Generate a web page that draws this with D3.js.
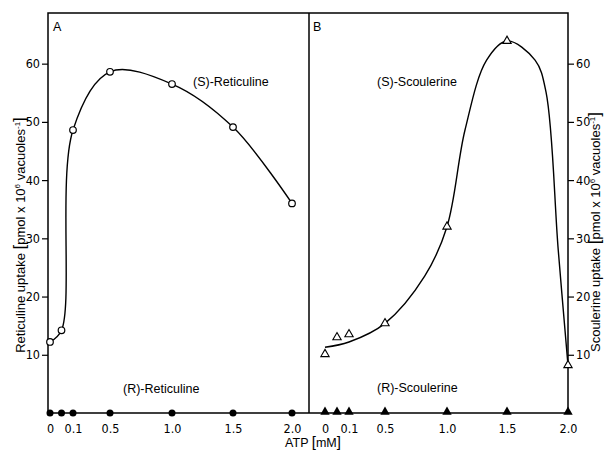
<!DOCTYPE html>
<html>
<head>
<meta charset="utf-8">
<script src="https://cdn.jsdelivr.net/npm/d3@7"></script>
<style>
    body { margin: 0; background: #fff; }
    svg { font-family: "Liberation Sans", Arial, sans-serif; }
    .tick text { font-family: "Liberation Sans Narrow", "DejaVu Sans Condensed", "Liberation Sans", sans-serif; font-size: 12.5px; }
</style>
</head>
<body>
<svg id="chart" width="605" height="452"></svg>
<script>
// ATP concentrations (mM)
const atp = [0, 0.05, 0.1, 0.5, 1.0, 1.5, 2.0];
// uptake, pmol x 10^6 vacuoles^-1
const sReticuline = [12.2, 14.2, 48.6, 58.6, 56.5, 49.1, 36.0];
const rReticuline = [0, 0, 0, 0, 0, 0, 0];
const sScoulerine = [10.1, 13.0, 13.5, 15.4, 32.0, 63.9, 8.2];
const rScoulerine = [0, 0, 0, 0, 0, 0, 0];
// hand drawn fit through the scoulerine points
const scoulerineFitAtp = [0, 0.1, 0.5, 0.82, 1.0, 1.15, 1.33, 1.5, 1.73, 1.82, 1.92, 2.0];
const scoulerineFit = [11.3, 12.2, 15.4, 23.5, 32.0, 48.6, 60.6, 63.9, 60.6, 55.1, 28.0, 8.2];

const xTicks = [0, 0.1, 0.5, 1.0, 1.5, 2.0];
const yTicks = [10, 20, 30, 40, 50, 60];

let svg = d3.select('#chart'),
    frameLeft = 48, frameMid = 309, frameRight = 568, frameTop = 13, frameBottom = 413;

let y = d3.scaleLinear().domain([0, 68.7]).range([frameBottom, frameTop]);

// broken ATP axis: 0-0.1 stretched, then linear
let xA = d3.scaleLinear().domain(xTicks).range([50, 73, 110, 172, 233, 292]);
let xB = d3.scaleLinear().domain(xTicks).range([325, 349, 385, 447, 507, 568]);

let fmt = d => d === 0 ? '0' : d3.format('.1f')(d);

// frame
let frame = svg.append('g').attr('stroke', '#000').attr('stroke-width', 1.5).attr('fill', 'none');
frame.append('path').attr('d', `M${frameLeft},${frameTop}H${frameRight}V${frameBottom}H${frameLeft}Z`);
frame.append('line').attr('x1', frameMid).attr('x2', frameMid).attr('y1', frameTop).attr('y2', frameBottom);

function axes(x, g) {
    g.append('g')
        .attr('transform', `translate(0,${frameBottom})`)
        .call(d3.axisBottom(x).tickValues(xTicks).tickFormat(fmt).tickSize(0).tickPadding(11))
        .call(a => a.select('.domain').remove());
}

let gA = svg.append('g'), gB = svg.append('g');
axes(xA, gA);
axes(xB, gB);

svg.append('g')
    .attr('transform', `translate(${frameLeft},0)`)
    .call(d3.axisLeft(y).tickValues(yTicks).tickSize(6).tickPadding(2))
    .call(a => a.select('.domain').remove())
    .call(a => a.selectAll('.tick line').attr('stroke-width', 1.2));

svg.append('g')
    .attr('transform', `translate(${frameRight},0)`)
    .call(d3.axisRight(y).tickValues(yTicks).tickSize(6).tickPadding(2))
    .call(a => a.select('.domain').remove())
    .call(a => a.selectAll('.tick line').attr('stroke-width', 1.2));

svg.selectAll('.tick text').attr('fill', '#000');

// curves
let lineA = d3.line()
    .x((d, i) => xA(atp[i]))
    .y(d => y(d))
    .curve(d3.curveCatmullRom.alpha(0.5));

gA.append('path')
    .attr('d', lineA(sReticuline))
    .attr('fill', 'none').attr('stroke', '#000').attr('stroke-width', 1.4);

let lineB = d3.line()
    .x((d, i) => xB(scoulerineFitAtp[i]))
    .y(d => y(d))
    .curve(d3.curveCatmullRom.alpha(0.5));

gB.append('path')
    .attr('d', lineB(scoulerineFit))
    .attr('fill', 'none').attr('stroke', '#000').attr('stroke-width', 1.4);

// markers
gA.selectAll('.open').data(sReticuline).enter().append('circle')
    .attr('cx', (d, i) => xA(atp[i])).attr('cy', d => y(d)).attr('r', 3.3)
    .attr('fill', '#fff').attr('stroke', '#000').attr('stroke-width', 1.2);

gA.selectAll('.filled').data(rReticuline).enter().append('circle')
    .attr('cx', (d, i) => xA(atp[i])).attr('cy', d => y(d)).attr('r', 3.5)
    .attr('fill', '#000');

let tri = d3.symbol(d3.symbolTriangle, 30);

gB.selectAll('.open').data(sScoulerine).enter().append('path')
    .attr('d', tri)
    .attr('transform', (d, i) => `translate(${xB(atp[i])},${y(d)})`)
    .attr('fill', '#fff').attr('stroke', '#000').attr('stroke-width', 1.1);

gB.selectAll('.filled').data(rScoulerine).enter().append('path')
    .attr('d', d3.symbol(d3.symbolTriangle, 38))
    .attr('transform', (d, i) => `translate(${xB(atp[i])},${y(d) - 1})`)
    .attr('fill', '#000');

// labels
let labels = [
    ['A', 53, 31], ['B', 313, 31],
    ['(S)-Reticuline', 193, 86], ['(R)-Reticuline', 123, 393],
    ['(S)-Scoulerine', 377, 86], ['(R)-Scoulerine', 377, 392]
];
svg.selectAll('.lbl').data(labels).enter().append('text')
    .attr('x', d => d[1]).attr('y', d => d[2])
    .attr('font-size', 12.5)
    .text(d => d[0]);

svg.append('text')
    .attr('x', 313).attr('y', 447)
    .attr('text-anchor', 'middle').attr('font-size', 12.5)
    .call(t => {
        t.append('tspan').text('ATP ');
        t.append('tspan').attr('font-size', 15).text('[');
        t.append('tspan').text('mM');
        t.append('tspan').attr('font-size', 15).text(']');
    });

function yTitle(name, x, cy) {
    let t = svg.append('text')
        .attr('transform', `translate(${x},${cy}) rotate(-90)`)
        .attr('text-anchor', 'middle').attr('font-size', 13);
    t.append('tspan').text(name + '  uptake ');
    t.append('tspan').attr('font-size', 17).text('[');
    t.append('tspan').text('pmol x 10');
    t.append('tspan').attr('font-size', 8).attr('dy', -5).text('6');
    t.append('tspan').attr('dy', 5).text(' vacuoles');
    t.append('tspan').attr('font-size', 8).attr('dy', -5).text('-1');
    t.append('tspan').attr('font-size', 17).attr('dy', 5).text(']');
}
yTitle('Reticuline', 25, 235);
yTitle('Scoulerine', 600, 232);
</script>
</body>
</html>
